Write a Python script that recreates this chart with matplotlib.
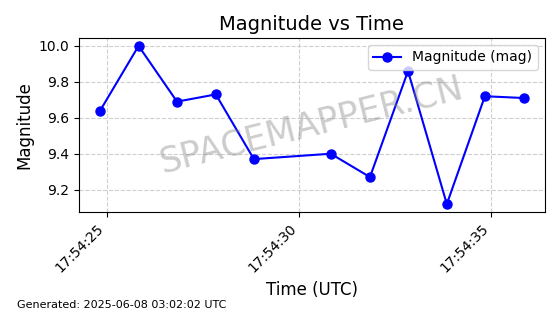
import matplotlib
matplotlib.use("Agg")
import matplotlib.pyplot as plt
import matplotlib.dates as mdates
import pandas as pd

# dados
tempos = ["17:54:24.83", "17:54:25.83", "17:54:26.83", "17:54:27.84", "17:54:28.83",
          "17:54:30.83", "17:54:31.85", "17:54:32.84", "17:54:33.85", "17:54:34.84",
          "17:54:35.85"]
magnitudes = [9.64, 10.00, 9.69, 9.73, 9.37, 9.40, 9.27, 9.86, 9.12, 9.72, 9.71]
gerado = "Generated: 2025-06-08 03:02:02 UTC"

t = pd.to_datetime(["2025-06-07 " + s for s in tempos])

fig, ax = plt.subplots(figsize=(5.6, 3.14), dpi=100)
ax.plot(t, magnitudes, marker='o', color='blue', markersize=6.5, linewidth=1.5,
        label='Magnitude (mag)')
ax.set_title("Magnitude vs Time", fontsize=14)
ax.set_xlabel("Time (UTC)", fontsize=12)
ax.set_ylabel("Magnitude", fontsize=12)
ax.xaxis.set_major_locator(mdates.SecondLocator(bysecond=range(0, 60, 5)))
ax.xaxis.set_major_formatter(mdates.DateFormatter('%H:%M:%S'))
plt.setp(ax.get_xticklabels(), rotation=45, ha='right')
ax.grid(linestyle='dashed', alpha=0.6)
ax.legend(loc='upper right')
ax.text(0.5, 0.5, "SPACEMAPPER.CN", transform=ax.transAxes, fontsize=25,
        color='gray', alpha=0.4, rotation=14, ha='center', va='center')
fig.text(0.03, 0.02, gerado, fontsize=8)
plt.subplots_adjust(left=0.141, right=0.973, top=0.879, bottom=0.325)
plt.savefig("out.png", dpi=100)
